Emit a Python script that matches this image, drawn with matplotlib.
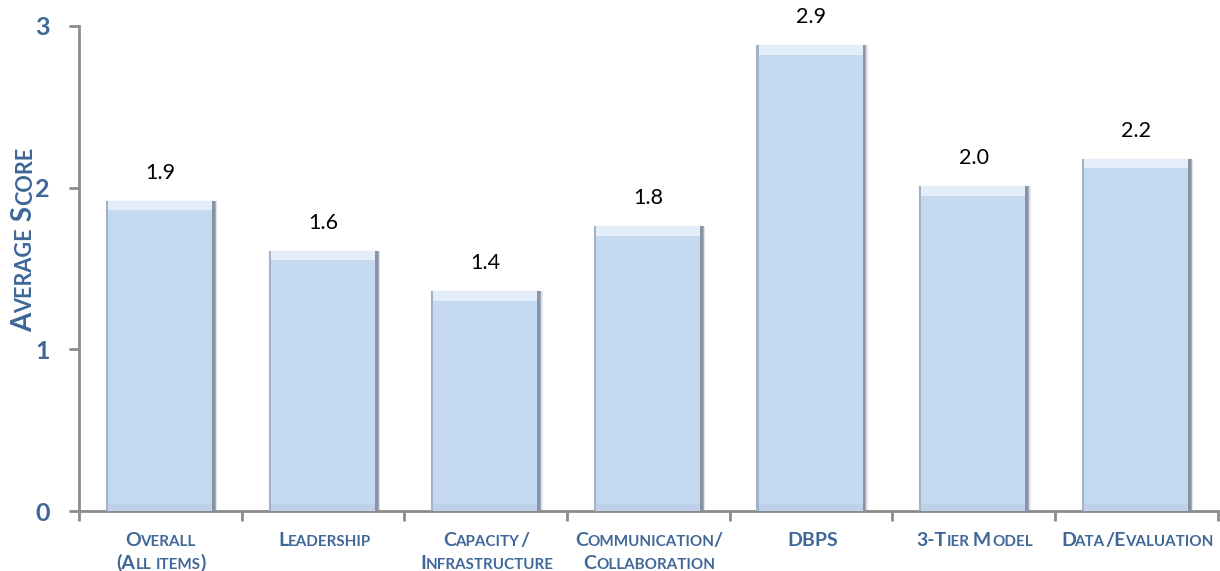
import matplotlib
matplotlib.use('Agg')
import matplotlib.pyplot as plt
from matplotlib.font_manager import FontProperties, findfont, get_font
import numpy as np

CATEGORIES = ['Overall\n(All items)', 'Leadership', 'Capacity/\nInfrastructure',
              'Communication/\nCollaboration', 'DBPS', '3-Tier Model', 'Data/Evaluation']
SCORES = [1.92, 1.61, 1.36, 1.76, 2.88, 2.01, 2.18]
VALUE_LABELS = ['1.9', '1.6', '1.4', '1.8', '2.9', '2.0', '2.2']
Y_TICKS = [0, 1, 2, 3]

BLUE = '#3F6797'
BAR = '#C5D9F1'
AXIS_GRAY = '#8C8C8C'
FONT = 'Lato'
DPI = 100


def run_metrics(s, prop):
    """Return (left bearing of first glyph, advance width) of a run, in points."""
    font = get_font(findfont(prop))
    font.set_size(prop.get_size_in_points(), DPI)
    adv = 0.0
    lsb = None
    for ch in s:
        g = font.load_char(ord(ch))
        if lsb is None:
            lsb = g.horiBearingX / 64.0
        adv += g.linearHoriAdvance / 65536.0
    return lsb * 72.0 / DPI, adv * 72.0 / DPI


def small_caps(ax, x, y, text, size, rotation=0, line_gap=1.2, xycoords='data'):
    """Draw text in small caps: upper-case letters big, lower-case letters as small capitals.
    (x, y) is the baseline centre of the first line."""
    big = FontProperties(family=FONT, weight='bold', size=size)
    small = FontProperties(family=FONT, weight='bold', size=size * 0.78)
    for li, line in enumerate(text.split('\n')):
        runs = []
        for ch in line:
            is_small = ch.islower()
            if runs and runs[-1][0] == is_small:
                runs[-1][1] += ch
            else:
                runs.append([is_small, ch])
        metrics = [run_metrics(s.upper(), small if sm else big) for sm, s in runs]
        total = sum(m[1] for m in metrics)
        origin = -total / 2.0
        line_off = -li * size * line_gap
        for (is_small, s), (lsb, adv) in zip(runs, metrics):
            prop = small if is_small else big
            along = origin + lsb
            off = (along, line_off) if rotation == 0 else (-line_off, along)
            ax.annotate(s.upper(), xy=(x, y), xycoords=xycoords, xytext=off,
                        textcoords='offset points', fontproperties=prop,
                        color=BLUE, ha='left', va='baseline',
                        rotation=rotation, rotation_mode='anchor',
                        annotation_clip=False)
            origin += adv


def draw_bars(ax, x, width):
    n = len(SCORES)
    scores = np.array(SCORES)
    # soft shadow behind the bars
    ax.bar(x + 0.016, scores, width=width, color='#808080', alpha=0.2, zorder=1)
    ax.bar(x, scores, width=width, color=BAR, edgecolor='#9FAEC2', linewidth=0.8, zorder=2)
    # bevel: light top, slightly darker bottom, grey side edges
    ax.bar(x, [0.06] * n, bottom=scores - 0.06, width=width - 0.02,
           color='#E4EEFA', linewidth=0, zorder=3)
    ax.bar(x, [0.045] * n, width=width - 0.02, color='#BED1E8', linewidth=0, zorder=3)
    ax.bar(x + width / 2 - 0.009, scores, width=0.018, color='#8893A3', linewidth=0, zorder=4)
    ax.bar(x - width / 2 + 0.007, scores, width=0.014, color='#A3B2C6', linewidth=0, zorder=4)


def main():
    fig = plt.figure(figsize=(12.2, 5.71), dpi=DPI)
    ax = fig.add_axes([0.0648, 0.105, 0.9332, 0.8495])
    x = np.arange(len(SCORES))
    width = 0.67
    draw_bars(ax, x, width)

    for xi, s, lab in zip(x, SCORES, VALUE_LABELS):
        ax.annotate(lab, xy=(xi, s), xytext=(0, 13), textcoords='offset points',
                    ha='center', va='bottom', fontsize=15.5, family=FONT, color='black')

    ax.set_xlim(-0.5, len(SCORES) - 0.5)
    ax.set_ylim(0, 3)
    ax.set_yticks(Y_TICKS)
    ax.set_yticklabels([str(t) for t in Y_TICKS], fontsize=18, fontweight='bold',
                       color=BLUE, family=FONT)
    ax.tick_params(axis='y', length=7, width=2, color=AXIS_GRAY, pad=14)

    ax.set_xticks(x)
    ax.set_xticklabels([])
    ax.tick_params(axis='x', which='major', length=0)
    ax.set_xticks(np.arange(-0.5, len(SCORES)), minor=True)
    ax.tick_params(axis='x', which='minor', length=7, width=2, color=AXIS_GRAY)

    for side in ['top', 'right']:
        ax.spines[side].set_visible(False)
    for side in ['left', 'bottom']:
        ax.spines[side].set_color(AXIS_GRAY)
        ax.spines[side].set_linewidth(2)

    # category labels: baseline about 35 px under the axis
    for xi, cat in zip(x, CATEGORIES):
        small_caps(ax, xi, -0.216, cat, 14, line_gap=1.18)

    small_caps(ax, 0.026, 0.58, 'Average Score', 20, rotation=90,
               xycoords='figure fraction')

    fig.savefig('out.png', dpi=DPI)
    plt.close(fig)


if __name__ == '__main__':
    main()
